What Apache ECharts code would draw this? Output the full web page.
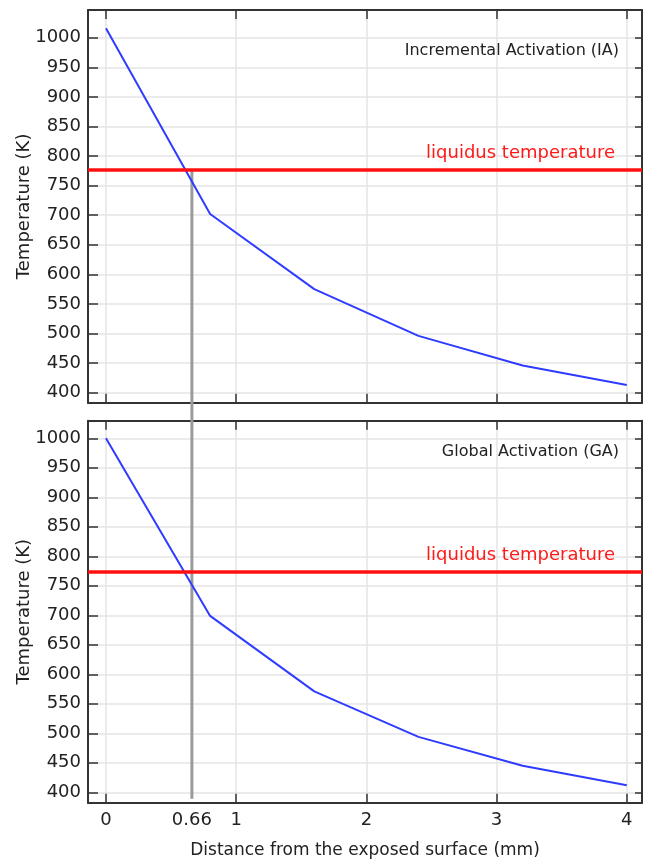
<!DOCTYPE html>
<html>
<head>
<meta charset="utf-8">
<script src="https://cdn.jsdelivr.net/npm/echarts@6/dist/echarts.min.js"></script>
<style>
  html, body { margin: 0; padding: 0; background: #fff; }
  #chart { width: 647px; height: 859px; }
</style>
</head>
<body>
<div id="chart"></div>
<script>
// Distance from the exposed surface (mm)
const distance = [0, 0.8, 1.6, 2.4, 3.2, 4.0];
// Temperature (K) for each activation scheme
const tempIA = [1016, 702, 575, 496, 446, 413];
const tempGA = [1000, 699, 571, 494, 445, 412];
// Liquidus temperature level in each panel (K)
const liquidusIA = 776;
const liquidusGA = 773;
// Depth where the profile crosses the liquidus
const crossingDepth = 0.66;

const xTickValues = [0, 1, 2, 3, 4];
const xLabelValues = [0, 0.66, 1, 2, 3, 4];
const yTickValues = [400, 450, 500, 550, 600, 650, 700, 750, 800, 850, 900, 950, 1000];

const FONT = 'DejaVu Sans';
const INK = '#222';
const FRAME = '#333';
const GRIDLINE = '#e4e4e4';

const xRange = { min: -0.138, max: 4.117 };
const yRangeIA = { min: 383.1, max: 1046.8 };
const yRangeGA = { min: 382.4, max: 1029.8 };

function frameAxis(extra) {
  return Object.assign({
    type: 'value',
    axisLine: { show: true, onZero: false, lineStyle: { color: FRAME, width: 2 } },
    axisTick: { show: true, inside: true, length: 9, lineStyle: { color: FRAME, width: 1.5 } },
    axisLabel: { show: false },
    splitLine: { show: false }
  }, extra);
}

function xAxisPair(gridIndex, withLabels) {
  const bottom = frameAxis({
    gridIndex, position: 'bottom', min: xRange.min, max: xRange.max,
    axisTick: { show: true, inside: true, length: 9, customValues: xTickValues,
      lineStyle: { color: FRAME, width: 1.5 } },
    splitLine: { show: true, lineStyle: { color: GRIDLINE, width: 1.5 } },
    axisLabel: withLabels ? {
      show: true, customValues: xLabelValues, margin: 9,
      fontFamily: FONT, fontSize: 18, color: INK,
      formatter: v => String(v)
    } : { show: false }
  });
  if (withLabels) {
    bottom.name = 'Distance from the exposed surface (mm)';
    bottom.nameLocation = 'middle';
    bottom.nameGap = 39;
    bottom.nameMoveOverlap = false;
    bottom.nameTextStyle = { fontFamily: FONT, fontSize: 17, color: INK };
  }
  const top = frameAxis({
    gridIndex, position: 'top', min: xRange.min, max: xRange.max,
    axisTick: { show: true, inside: true, length: 9, customValues: xTickValues,
      lineStyle: { color: FRAME, width: 1.5 } }
  });
  return [bottom, top];
}

function yAxisPair(gridIndex, range) {
  const left = frameAxis({
    gridIndex, position: 'left', min: range.min, max: range.max,
    name: 'Temperature (K)', nameLocation: 'middle', nameGap: 55,
    nameMoveOverlap: false,
    nameTextStyle: { fontFamily: FONT, fontSize: 18, color: INK },
    axisTick: { show: true, inside: true, length: 10, customValues: yTickValues,
      lineStyle: { color: FRAME, width: 1.5 } },
    axisLabel: { show: true, customValues: yTickValues, margin: 7,
      fontFamily: FONT, fontSize: 18, color: INK, formatter: v => String(v) },
    splitLine: { show: true, lineStyle: { color: GRIDLINE, width: 1.5 } }
  });
  const right = frameAxis({
    gridIndex, position: 'right', min: range.min, max: range.max,
    axisTick: { show: true, inside: true, length: 7, customValues: yTickValues,
      lineStyle: { color: FRAME, width: 1.5 } }
  });
  return [left, right];
}

function liquidusLine(value) {
  return {
    silent: true,
    symbol: 'none',
    lineStyle: { color: '#ff1010', width: 3.5, type: 'solid' },
    label: {
      show: true, position: 'insideEndTop', distance: [27, 8],
      formatter: 'liquidus temperature',
      fontFamily: FONT, fontSize: 18, color: '#ff1a1a'
    },
    emphasis: { disabled: true },
    data: [{ yAxis: value }]
  };
}

const chart = echarts.init(document.getElementById('chart'), null, { renderer: 'canvas' });

const option = {
  animation: false,
  backgroundColor: '#fff',
  grid: [
    { left: 88, top: 10, width: 554, height: 392.7, outerBoundsMode: 'none', containLabel: false },
    { left: 88, top: 420.7, width: 554, height: 382, outerBoundsMode: 'none', containLabel: false }
  ],
  title: [
    { text: 'Incremental Activation (IA)', right: 28, top: 43, padding: 0,
      textStyle: { fontFamily: FONT, fontSize: 16, fontWeight: 'normal', color: INK } },
    { text: 'Global Activation (GA)', right: 28, top: 444, padding: 0,
      textStyle: { fontFamily: FONT, fontSize: 16, fontWeight: 'normal', color: INK } }
  ],
  xAxis: [...xAxisPair(0, false), ...xAxisPair(1, true)],
  yAxis: [...yAxisPair(0, yRangeIA), ...yAxisPair(1, yRangeGA)],
  series: [
    {
      // vertical marker at the liquidus crossing, running down through both panels
      type: 'custom',
      xAxisIndex: 0, yAxisIndex: 0,
      clip: false, silent: true, z: 1,
      data: [[crossingDepth, liquidusIA]],
      renderItem: function (params, api) {
        const start = api.coord([api.value(0), api.value(1)]);
        const end = chart.convertToPixel({ xAxisIndex: 2, yAxisIndex: 2 },
          [api.value(0), yRangeGA.min]);
        return {
          type: 'line',
          shape: { x1: start[0], y1: start[1], x2: start[0], y2: end[1] - 4 },
          style: { stroke: '#9b9b9b', lineWidth: 3 }
        };
      }
    },
    {
      name: 'IA', type: 'line', xAxisIndex: 0, yAxisIndex: 0, z: 3,
      data: distance.map((d, i) => [d, tempIA[i]]),
      symbol: 'none', lineStyle: { color: '#2f3cff', width: 2 },
      markLine: liquidusLine(liquidusIA)
    },
    {
      name: 'GA', type: 'line', xAxisIndex: 2, yAxisIndex: 2, z: 3,
      data: distance.map((d, i) => [d, tempGA[i]]),
      symbol: 'none', lineStyle: { color: '#2f3cff', width: 2 },
      markLine: liquidusLine(liquidusGA)
    }
  ]
};

chart.setOption(option);
</script>
</body>
</html>
